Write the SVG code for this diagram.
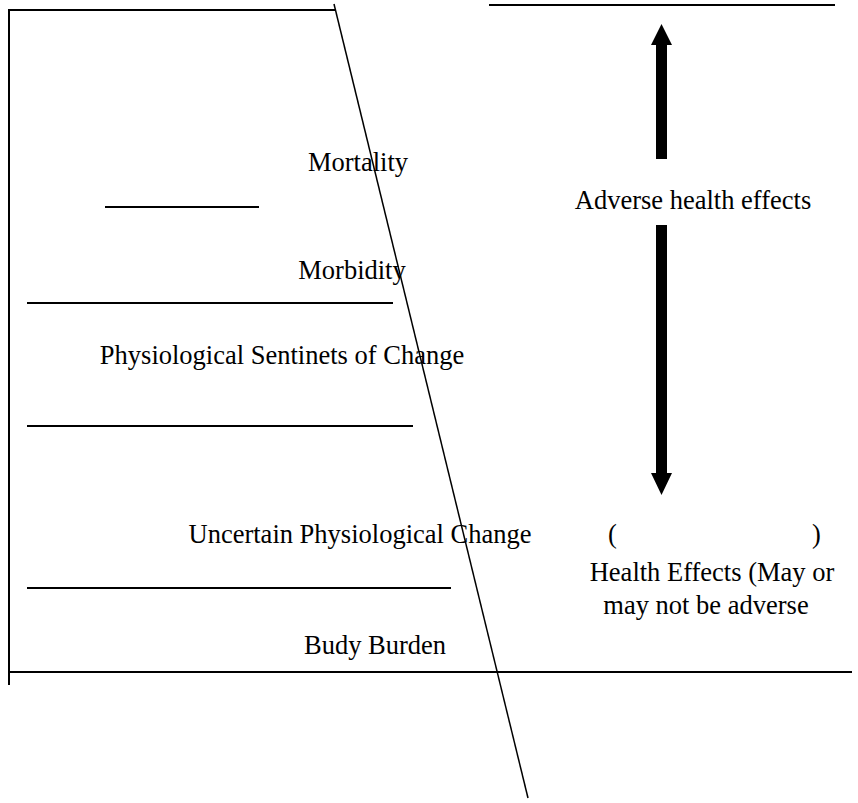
<svg xmlns="http://www.w3.org/2000/svg" width="858" height="803" viewBox="0 0 858 803">
<style>
.ln{stroke:#000;stroke-width:2;fill:none}
.thin{stroke:#000;stroke-width:1.5;fill:none}
text{font-family:"Liberation Serif","Times New Roman",serif;font-size:26.5px;fill:#000}
.c{text-anchor:middle}
</style>
<rect width="858" height="803" fill="#fff"/>
<g id="frame">
<polyline class="ln" points="335,10 9,10 9,685"/>
<line class="ln" x1="9" y1="672" x2="852" y2="672"/>
<line class="ln" x1="489" y1="5" x2="835" y2="5"/>
</g>
<g id="levels">
<line class="ln" x1="105" y1="207" x2="259" y2="207"/>
<line class="ln" x1="27" y1="303" x2="393" y2="303"/>
<line class="ln" x1="27" y1="426" x2="413" y2="426"/>
<line class="ln" x1="27" y1="588" x2="451" y2="588"/>
</g>
<g id="labels">
<text class="c" x="358" y="171">Mortality</text>
<text class="c" x="352" y="279">Morbidity</text>
<text class="c" x="282" y="364">Physiological Sentinets of Change</text>
<text class="c" x="360" y="543">Uncertain Physiological Change</text>
<text class="c" x="375" y="654">Budy Burden</text>
<text class="c" x="693" y="209">Adverse health effects</text>
<text x="608" y="543">(</text>
<text x="812" y="543">)</text>
<text class="c" x="712" y="581">Health Effects (May or</text>
<text class="c" x="706" y="614">may not be adverse</text>
</g>
<g id="connectors">
<line class="thin" x1="334" y1="4" x2="528" y2="798"/>
<polygon points="656,159 667,159 667,45 672,45 661.5,24 651,45 656,45" fill="#000"/>
<polygon points="656,225 667,225 667,473 672,473 661.5,495 651,473 656,473" fill="#000"/>
</g>
</svg>
